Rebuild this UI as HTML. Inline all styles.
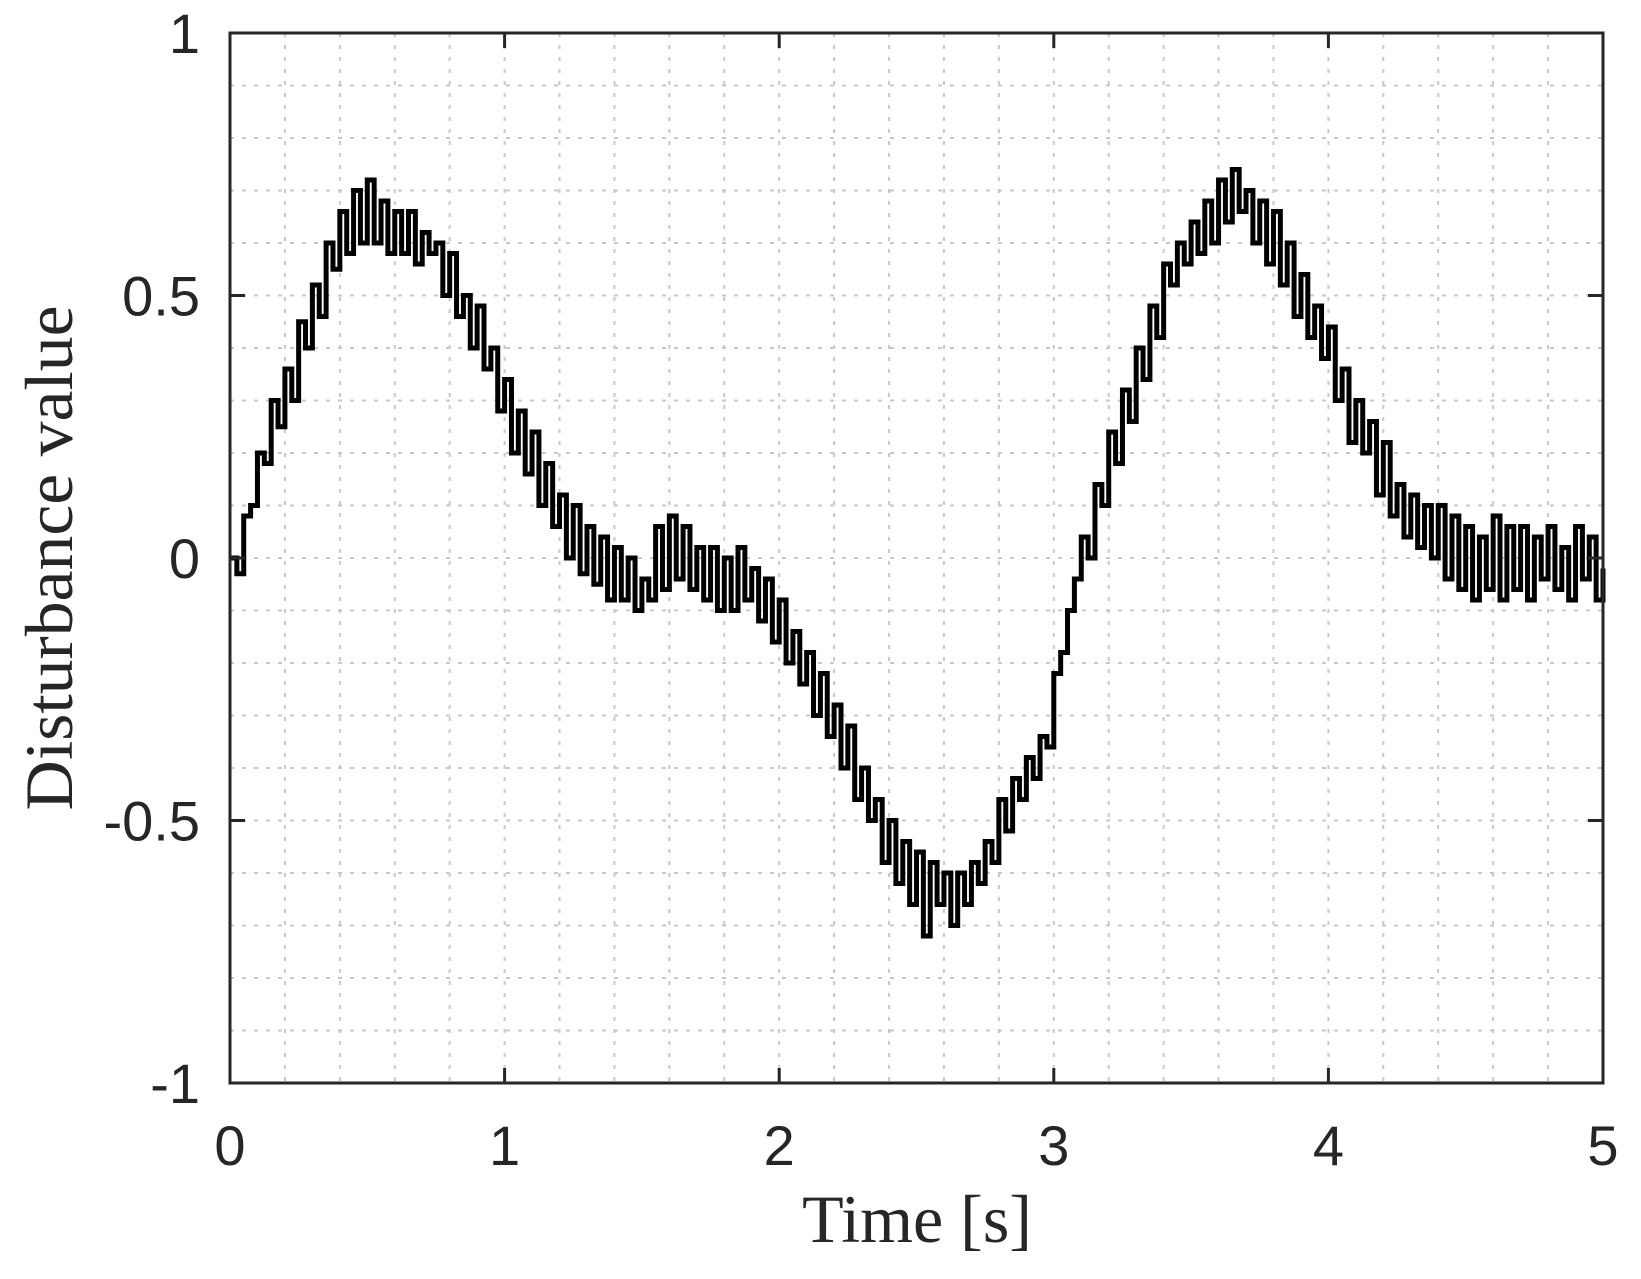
<!DOCTYPE html>
<html><head><meta charset="utf-8"><style>
html,body{margin:0;padding:0;background:#fff;}
svg{display:block;}
.tick{font-family:"Liberation Sans",sans-serif;font-size:56px;fill:#262626;}
.lab{font-family:"Liberation Serif",serif;font-size:68px;fill:#262626;}
</style></head><body>
<svg id="chart" width="1641" height="1279">
<g id="grid"></g>
<path id="series" fill="none" stroke="#000" stroke-width="5" stroke-linejoin="miter"/>
<rect x="230" y="33" width="1373" height="1050" fill="none" stroke="#262626" stroke-width="3"/>
<g id="ticks"></g>
<text class="lab" x="917" y="1242" text-anchor="middle">Time [s]</text>
<text class="lab" transform="translate(72,558) rotate(-90)" text-anchor="middle" textLength="505" lengthAdjust="spacingAndGlyphs">Disturbance value</text>
</svg>
<script>
const xTicks=[0,1,2,3,4,5];
const yTicks=[-1,-0.5,0,0.5,1];
const yTickLabels=["-1","-0.5","0","0.5","1"];
const sampleStep=0.025;
const values=[0,-0.03,0.08,0.1,0.2,0.18,0.3,0.25,0.36,0.3,0.45,0.4,0.52,0.46,0.6,0.55,0.66,0.58,0.7,0.6,
0.72,0.6,0.68,0.58,0.66,0.58,0.66,0.56,0.62,0.58,0.6,0.5,0.58,0.46,0.5,0.4,0.48,0.36,0.4,0.28,
0.34,0.2,0.28,0.16,0.24,0.1,0.18,0.06,0.12,0.0,0.1,-0.03,0.06,-0.05,0.04,-0.08,0.02,-0.08,0.0,-0.1,
-0.04,-0.08,0.06,-0.06,0.08,-0.04,0.06,-0.06,0.02,-0.08,0.02,-0.1,0.0,-0.1,0.02,-0.08,-0.02,-0.12,-0.04,-0.16,
-0.08,-0.2,-0.14,-0.24,-0.18,-0.3,-0.22,-0.34,-0.28,-0.4,-0.32,-0.46,-0.4,-0.5,-0.46,-0.58,-0.5,-0.62,-0.54,-0.66,
-0.56,-0.72,-0.58,-0.66,-0.6,-0.7,-0.6,-0.66,-0.58,-0.62,-0.54,-0.58,-0.46,-0.52,-0.42,-0.46,-0.38,-0.42,-0.34,-0.36,
-0.22,-0.18,-0.1,-0.04,0.04,0.0,0.14,0.1,0.24,0.18,0.32,0.26,0.4,0.34,0.48,0.42,0.56,0.52,0.6,0.56,
0.64,0.58,0.68,0.6,0.72,0.64,0.74,0.66,0.7,0.6,0.68,0.56,0.66,0.52,0.6,0.46,0.54,0.42,0.48,0.38,
0.44,0.3,0.36,0.22,0.3,0.2,0.26,0.12,0.22,0.08,0.14,0.04,0.12,0.02,0.1,0.0,0.1,-0.04,0.08,-0.06,
0.06,-0.08,0.04,-0.06,0.08,-0.08,0.06,-0.06,0.06,-0.08,0.04,-0.04,0.06,-0.06,0.02,-0.08,0.06,-0.04,0.04,-0.08,
-0.02];
const X0=230,X1=1603,Y0=1083,Y1=33;
const xs=t=>X0+(t-0)/(5-0)*(X1-X0);
const ys=v=>Y0-(v+1)/2*(Y0-Y1);
const NS="http://www.w3.org/2000/svg";
const grid=document.getElementById('grid'),ticks=document.getElementById('ticks');
function ln(p,x1,y1,x2,y2,st,w,da){const l=document.createElementNS(NS,'line');l.setAttribute('x1',x1);l.setAttribute('y1',y1);l.setAttribute('x2',x2);l.setAttribute('y2',y2);l.setAttribute('stroke',st);l.setAttribute('stroke-width',w);if(da)l.setAttribute('stroke-dasharray',da);p.appendChild(l);return l;}
for(let i=1;i<25;i++){const x=xs(i*0.2);const l=ln(grid,x,Y1,x,Y0,'#c8c8c8',2,'4 8');

}
for(let i=1;i<20;i++){const y=ys(-1+i*0.1);const l=ln(grid,X0,y,X1,y,'#c8c8c8',2,'4 8');

}
xTicks.forEach(t=>{const x=xs(t);ln(ticks,x,Y0,x,Y0-15,'#262626',3);ln(ticks,x,Y1,x,Y1+15,'#262626',3);
const tx=document.createElementNS(NS,'text');tx.setAttribute('class','tick');tx.setAttribute('x',x);tx.setAttribute('y',1165);tx.setAttribute('text-anchor','middle');tx.textContent=t;


ticks.appendChild(tx);});
yTicks.forEach((v,i)=>{const y=ys(v);ln(ticks,X0,y,X0+15,y,'#262626',3);ln(ticks,X1,y,X1-15,y,'#262626',3);
const tx=document.createElementNS(NS,'text');tx.setAttribute('class','tick');tx.setAttribute('x',200);tx.setAttribute('y',y+20);tx.setAttribute('text-anchor','end');tx.textContent=yTickLabels[i];


ticks.appendChild(tx);});
let d='M'+xs(0)+','+ys(values[0]);
for(let i=1;i<values.length;i++){d+=' H'+xs(i*sampleStep)+' V'+ys(values[i]);}
document.getElementById('series').setAttribute('d',d);
</script>
</body></html>
